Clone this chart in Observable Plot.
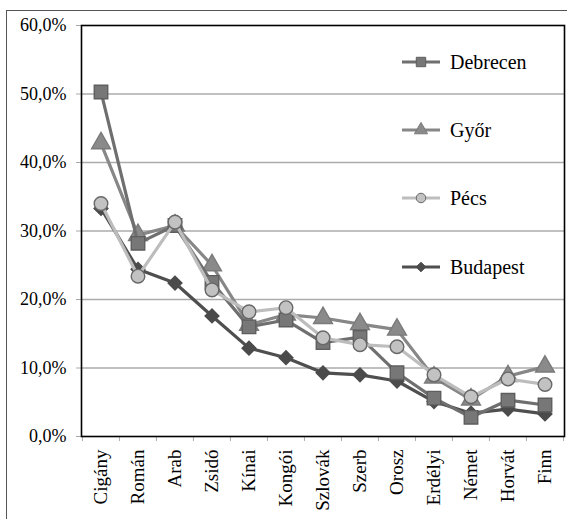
<!DOCTYPE html>
<html><head><meta charset="utf-8">
<script src="https://cdn.jsdelivr.net/npm/d3@7"></script>
<script src="https://cdn.jsdelivr.net/npm/@observablehq/plot@0.6"></script>
<style>
body{margin:0;background:#fff;}
#wrap{position:relative;width:567px;height:519px;overflow:hidden;}
#border{position:absolute;left:6px;top:10px;width:600px;height:600px;border:1.5px solid #555;box-sizing:border-box;}
#chart{position:absolute;left:0;top:0;}
#legend{position:absolute;left:0;top:0;}
</style></head>
<body><div id="wrap"><div id="border"></div><div id="chart"></div><svg id="legend" width="567" height="519"></svg></div>
<script>
const categories = ["Cigány","Román","Arab","Zsidó","Kínai","Kongói","Szlovák","Szerb","Orosz","Erdélyi","Német","Horvát","Finn"];
const debrecen = [50.3, 28.2, 30.8, 22.5, 16.0, 17.0, 13.7, 14.5, 9.3, 5.6, 2.8, 5.3, 4.6];
const gyor     = [42.8, 29.4, 30.8, 25.0, 16.3, 17.8, 17.3, 16.4, 15.6, 8.6, 5.4, 8.8, 10.2];
const pecs     = [34.0, 23.4, 31.3, 21.4, 18.2, 18.8, 14.4, 13.4, 13.1, 9.0, 5.8, 8.4, 7.6];
const budapest = [33.3, 24.4, 22.4, 17.6, 12.9, 11.5, 9.3, 9.0, 8.1, 5.1, 3.4, 4.0, 3.3];
const yTicks = [0, 10, 20, 30, 40, 50, 60];
const seriesNames = ["Debrecen","Győr","Pécs","Budapest"];

const FONT = "Liberation Serif";
const styles = {
  "Debrecen": {line:"#6f6f6f", fill:"#777777", stroke:"#5e5e5e", symbol:"square", r:7.6},
  "Győr":     {line:"#878787", fill:"#8a8a8a", stroke:"#7a7a7a", symbol:"triangle", r:7.0},
  "Pécs":     {line:"#bdbdbd", fill:"#c2c2c2", stroke:"#686868", symbol:"circle", r:6.8},
  "Budapest": {line:"#4f4f4f", fill:"#4b4b4b", stroke:"#4b4b4b", symbol:"diamond2", r:6.2}
};
const values = {"Debrecen":debrecen, "Győr":gyor, "Pécs":pecs, "Budapest":budapest};
const drawOrder = ["Budapest","Győr","Debrecen","Pécs"];

const W = 567, H = 519, mL = 81, mR = 3, mT = 25, mB = 83;
const step = (W - mL - mR) / categories.length;
const fmt = d => d.toFixed(1).replace(".", ",") + "%";

const marks = [
  Plot.gridY([10,20,30,40,50], {stroke:"#ababab", strokeOpacity:1, strokeWidth:1.6}),
  Plot.axisY(yTicks, {tickSize:5, tickPadding:10, stroke:"#aaaaaa", fill:"black", tickFormat:fmt, fontSize:18, label:null}),
  Plot.axisX({tickSize:0, tickPadding:13, tickRotate:-90, fill:"black", fontSize:19, label:null}),
  Plot.axisX(categories, {tickSize:5, tickFormat:()=>"", stroke:"#aaaaaa", dx:-step/2, label:null}),
  Plot.axisX([categories[categories.length-1]], {tickSize:5, tickFormat:()=>"", stroke:"#aaaaaa", dx:step/2, label:null}),
];
for (const name of drawOrder) {
  const s = styles[name];
  const data = categories.map((c,i)=>({cat:c, v:values[name][i]}));
  marks.push(Plot.line(data, {x:"cat", y:"v", stroke:s.line, strokeWidth:3.2}));
  marks.push(Plot.dot(data, {x:"cat", y:"v", symbol:s.symbol, r:s.r, fill:s.fill, stroke:s.stroke, strokeWidth:1.4}));
}
marks.push(Plot.frame({stroke:"black", strokeWidth:1.6}));

const chart = Plot.plot({
  width:W, height:H, marginLeft:mL, marginRight:mR, marginTop:mT, marginBottom:mB,
  style:{background:"transparent"},
  x:{type:"band", domain:categories, padding:0, axis:null, label:null},
  y:{domain:[0,60], axis:null, label:null},
  marks
});
document.getElementById("chart").appendChild(chart);

// legend
const lg = d3.select("#legend");
const rowY = [62, 130, 198, 267];
seriesNames.forEach((name,i)=>{
  const s = styles[name];
  const g = lg.append("g").attr("transform",`translate(0,${rowY[i]})`);
  g.append("line").attr("x1",402).attr("x2",440).attr("y1",0).attr("y2",0).attr("stroke",s.line).attr("stroke-width",3.2);
  const sym = {square:d3.symbolSquare, triangle:d3.symbolTriangle, circle:d3.symbolCircle, diamond2:d3.symbolDiamond2}[s.symbol];
  g.append("path").attr("transform","translate(421,0)").attr("d", d3.symbol(sym, Math.PI*(s.r*0.7)**2)())
    .attr("fill",s.fill).attr("stroke",s.stroke).attr("stroke-width",1);
  g.append("text").attr("x",450).attr("y",0).attr("dy","0.35em").attr("font-size",20).text(name);
});
d3.selectAll("svg text").attr("font-family", FONT).style("font-family", FONT);
</script></body></html>
